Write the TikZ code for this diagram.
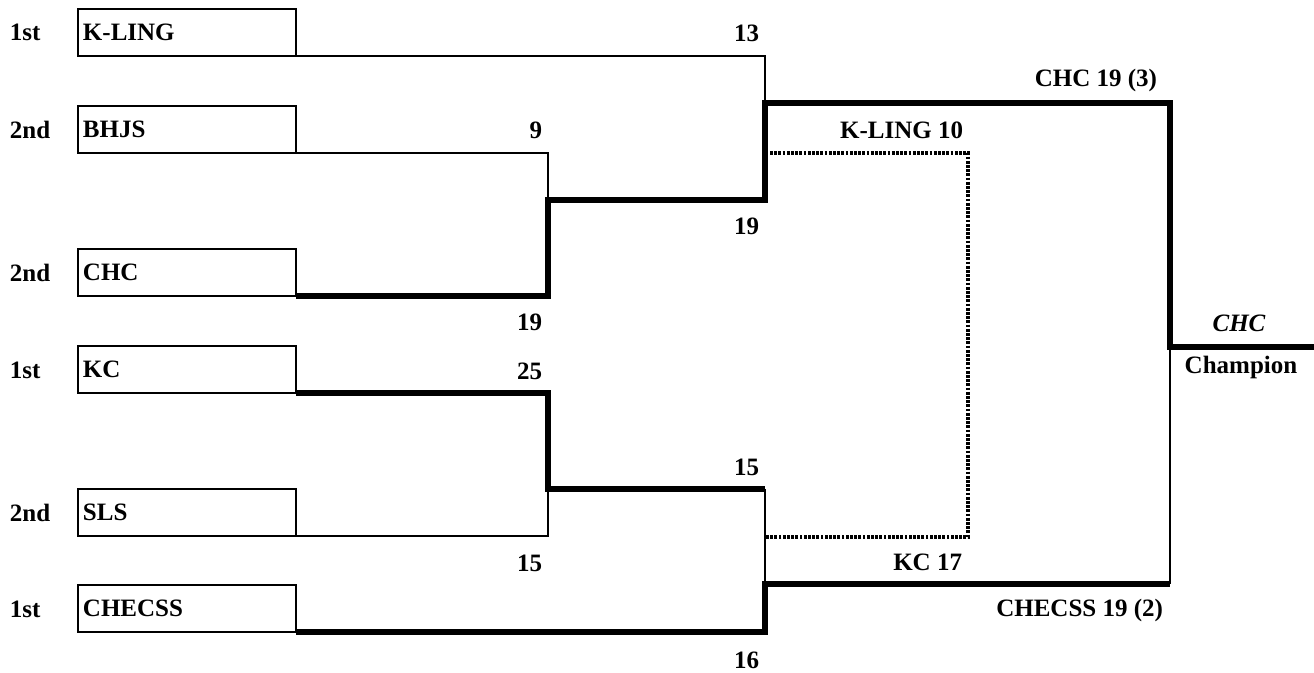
\documentclass[tikz,border=0pt]{standalone}
\usepackage{fontspec}
\setmainfont{Liberation Serif}
\begin{document}
\begin{tikzpicture}[x=0.5pt,y=-0.5pt,
  every node/.style={font=\fontsize{12.5}{14}\selectfont\bfseries, inner sep=0pt, outer sep=0pt},
  team/.style={draw, line width=1.3pt, minimum width=109pt, minimum height=23.5pt, anchor=north west, align=left, text width=104pt, inner xsep=2.5pt},
  thin/.style={line width=1pt},
  thick/.style={line width=2.8pt},
  dots/.style={line width=1.6pt, dash pattern=on 1.4pt off 0.7pt},
  num/.style={anchor=east},
  rank/.style={anchor=west}]
\useasboundingbox (0,0) rectangle (1314,673);
% teams
\node[team] (t1) at (78,9) {K-LING};
\node[team] (t2) at (78,106) {BHJS};
\node[team] (t3) at (78,249) {CHC};
\node[team] (t4) at (78,346) {KC};
\node[team] (t5) at (78,489) {SLS};
\node[team] (t6) at (78,585) {CHECSS};
% ranks
\node[rank] at (10,32) {1st};
\node[rank] at (10,130) {2nd};
\node[rank] at (10,273) {2nd};
\node[rank] at (10,370) {1st};
\node[rank] at (10,513) {2nd};
\node[rank] at (10,609) {1st};
% junction coordinates
\coordinate (a2) at (765,103);
\coordinate (b2) at (548,200);
\coordinate (c1) at (765,200);
\coordinate (d2) at (548,489);
\coordinate (e1) at (765,489);
\coordinate (e2) at (765,584);
\coordinate (f1) at (1170,103);
\coordinate (f2) at (1170,347);
\coordinate (f3) at (1170,584);
\coordinate (g) at (1314,347);
\coordinate (p1) at (770,153);
\coordinate (p2) at (968,153);
\coordinate (p3) at (968,537);
\coordinate (p4) at (766,537);
% thin lines
\draw[thin] (t1.south east) -| (a2);
\draw[thin] (t2.south east) -| (b2);
\draw[thin] (t5.south east) -| (d2);
\draw[thin] (e1) -- (e2);
\draw[thin] (f2) -- (f3);
% thick lines
\draw[thick] (t3.south east) -| (b2) -- (c1) -- (a2) -- (f1) -- (f2) -- (g);
\draw[thick] (t4.south east) -| (d2) -- (e1);
\draw[thick] (t6.south east) -| (e2) -- (f3);
% dotted
\draw[dots] (p1) -- (p2) -- (p3) -- (p4);
% scores
\node[num] at (759,33) {13};
\node[num] at (542,130) {9};
\node[num] at (963,130) {K-LING 10};
\node[num] at (1157,80) {CHC 19 (3)};
\node[num] at (759,226) {19};
\node[num] at (542,322) {19};
\node[num] at (542,371) {25};
\node[num] at (759,467) {15};
\node[num] at (542,563) {15};
\node[num] at (962,562) {KC 17};
\node[num] at (1163,610) {CHECSS 19 (2)};
\node[num] at (759,660) {16};
\node at (1239,323) {\itshape CHC};
\node at (1241,367) {Champion};
\end{tikzpicture}
\end{document}
